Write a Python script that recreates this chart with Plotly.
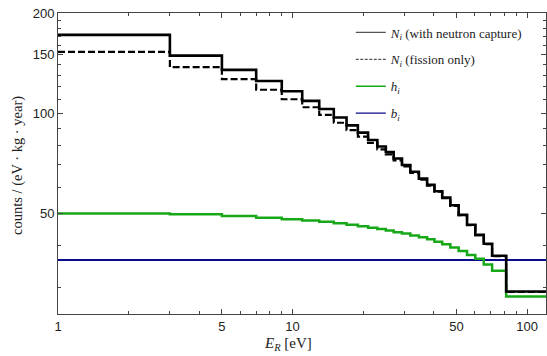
import plotly.graph_objects as go
import math

# bin edges (eV)
bin_edges = [1, 3, 5, 7, 9, 11, 13, 15, 17, 19, 21, 23, 25, 27, 29.3, 31.8, 34.6, 37.5,
             40.3, 43.5, 47.1, 51.1, 55.5, 60.2, 65.4, 71.0, 81.5, 125]
# N_i with neutron capture
n_capture = [172, 149, 135, 125, 116.5, 109, 103, 97.2, 92, 87.5, 83.2, 79.5, 76.5, 73.2,
             70, 66.8, 63.7, 61, 58.4, 55.9, 53, 49.6, 46.3, 43.2, 40.6, 37.4, 29.2]
# N_i fission only
n_fission = [153, 137.6, 126.6, 117.7, 110.2, 104.3, 98.9, 93.7, 89, 85.1, 81.5, 78, 75.3, 72.3,
             69.3, 66.3, 63.3, 60.7, 58.2, 55.7, 52.8, 49.5, 46.2, 43.1, 40.5, 37.3, 29.1]
# h_i
h_vals = [50.1, 49.8, 49.2, 48.6, 48.1, 47.7, 47.3, 46.8, 46.3, 45.8, 45.4, 45.0, 44.5, 44.0,
          43.6, 43.0, 42.5, 41.9, 41.2, 40.5, 39.6, 38.6, 37.6, 36.6, 35.2, 33.7, 28.2]
# b_i
b_vals = [36.3] * len(h_vals)

x_tickvals = [1, 5, 10, 50, 100]
x_ticktext = ["1", "5", "10", "50", "100"]
x_minor = [2, 3, 4, 6, 7, 8, 9, 20, 30, 40, 60, 70, 80, 90]
y_tickvals = [50, 100, 150, 200]
y_ticktext = ["50", "100", "150", "200"]
y_minor = [30, 40, 60, 70, 80, 90] + list(range(110, 200, 10))

legend_labels = [
    "<i>N</i><sub><i>i</i></sub> (with neutron capture)",
    "<i>N</i><sub><i>i</i></sub> (fission only)",
    "<i>h</i><sub><i>i</i></sub>",
    "<i>b</i><sub><i>i</i></sub>",
]

BLACK = "#000000"
GREEN = "#16a816"
BLUE = "#0a0a8c"

def steps(vals):
    return vals + [vals[-1]]

fig = go.Figure()
fig.add_trace(go.Scatter(x=bin_edges, y=steps(b_vals), mode="lines", line_shape="hv",
                         line=dict(color=BLUE, width=2.2), showlegend=False))
fig.add_trace(go.Scatter(x=bin_edges, y=steps(h_vals), mode="lines", line_shape="hv",
                         line=dict(color=GREEN, width=2.5), showlegend=False))
fig.add_trace(go.Scatter(x=bin_edges, y=steps(n_fission), mode="lines", line_shape="hv",
                         line=dict(color=BLACK, width=2.2, dash="7px,3px"), showlegend=False))
fig.add_trace(go.Scatter(x=bin_edges, y=steps(n_capture), mode="lines", line_shape="hv",
                         line=dict(color=BLACK, width=2.6), showlegend=False))

# legend entries
leg_styles = [
    dict(color="#555555", width=1.3),
    dict(color="#555555", width=1.3, dash="3px,1.5px"),
    dict(color=GREEN, width=1.3),
    dict(color=BLUE, width=1.3),
]
for i, (lab, st) in enumerate(zip(legend_labels, leg_styles)):
    fig.add_trace(go.Scatter(x=[None], y=[None], mode="lines", line=st, name=lab,
                             legendgroup=f"g{i}"))

axis_common = dict(
    showline=True, linecolor="#444444", linewidth=1, mirror="ticks",
    ticks="inside", ticklen=5, tickwidth=1, tickcolor="#444444",
    showgrid=False, zeroline=False,
    tickfont=dict(family="Liberation Sans, Arial", size=13, color="#222222"),
)

fig.update_layout(
    width=547, height=356,
    margin=dict(l=58, r=1, t=13, b=42),
    paper_bgcolor="white", plot_bgcolor="white",
    xaxis=dict(type="log", range=[0, math.log10(120.5)], tickmode="array",
               tickvals=x_tickvals, ticktext=x_ticktext,
               minor=dict(tickmode="array", tickvals=x_minor, ticks="inside", ticklen=3,
                          tickcolor="#444444"),
               **axis_common),
    yaxis=dict(type="log", range=[math.log10(25), math.log10(200)], tickmode="array",
               tickvals=y_tickvals, ticktext=y_ticktext,
               minor=dict(tickmode="array", tickvals=y_minor, ticks="inside", ticklen=3,
                          tickcolor="#444444"),
               **axis_common),
    legend=dict(x=0.600, y=0.985, xanchor="left", yanchor="top",
                bgcolor="rgba(0,0,0,0)", borderwidth=0, tracegroupgap=7,
                font=dict(family="Liberation Serif, Times New Roman", size=13, color="#222222")),
    showlegend=True,
    annotations=[
        dict(text="counts / (eV · kg · year)", xref="paper", yref="paper",
             x=(17 - 58) / 488, y=(314 - 166) / 301, xanchor="center", yanchor="middle",
             textangle=-90, showarrow=False,
             font=dict(family="Liberation Serif, Times New Roman", size=14.5, color="#222222")),
        dict(text="<i>E</i><sub><i>R</i></sub> [eV]", xref="paper", yref="paper",
             x=(288 - 58) / 488, y=-(344 - 314) / 301, xanchor="center", yanchor="middle",
             showarrow=False,
             font=dict(family="Liberation Serif, Times New Roman", size=15, color="#222222")),
    ],
)

fig.write_html("out.html")
